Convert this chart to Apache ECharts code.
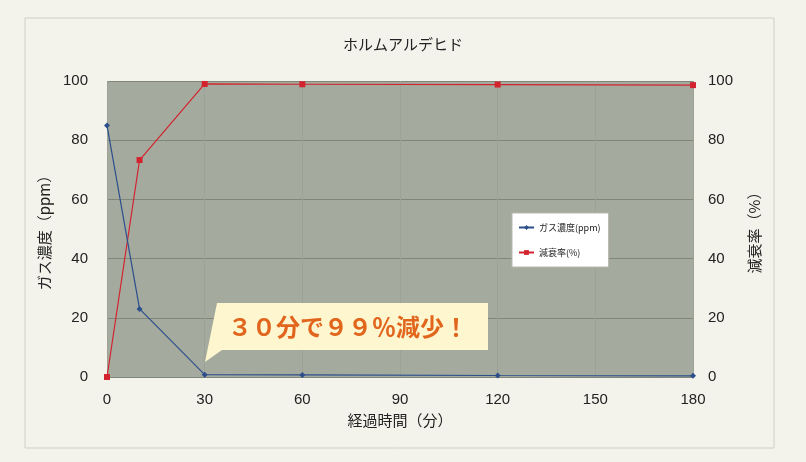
<!DOCTYPE html>
<html><head><meta charset="utf-8">
<script src="https://cdn.jsdelivr.net/npm/echarts@6/dist/echarts.min.js"></script>
<style>html,body{margin:0;padding:0;background:#f3f2eb;}#c{width:806px;height:462px;}</style>
</head><body><div id="c"></div>
<script>
const title = 'ホルムアルデヒド';
const xTimes = [0, 10, 30, 60, 120, 180];
const gasPpm = [85, 23, 0.8, 0.7, 0.5, 0.4];
const decayPct = [0, 73.3, 99.0, 98.9, 98.8, 98.6];
const gasSeries = 'ガス濃度(ppm)';
const decaySeries = '減衰率(%)';
const gasAxisName = 'ガス濃度（ppm）';
const decayAxisName = '減衰率（%）';
const xName = '経過時間（分）';
const calloutText = '３０分で９９％減少！';

const chart = echarts.init(document.getElementById('c'));
const font = '"Noto Sans CJK JP", "Noto Sans", sans-serif';
const numFont = '"Liberation Sans", Arial, sans-serif';
chart.setOption({
  backgroundColor: '#f3f2eb',
  textStyle: {fontFamily: font},
  title: {text: title, left: 'center', top: 32, textStyle: {fontSize: 15, fontWeight: 'normal', color: '#222', fontFamily: font}},
  grid: {left: 107, right: 113, top: 81, bottom: 85, show: true, backgroundColor: '#a4aa9e', borderWidth: 0},
  legend: {
    orient: 'vertical', left: 512, top: 213,
    backgroundColor: '#ffffff', borderColor: '#b8b8b0', borderWidth: 1,
    padding: [10, 8, 10, 6], itemGap: 16, itemWidth: 15, itemHeight: 6,
    textStyle: {fontSize: 9, color: '#222'},
    data: [gasSeries, decaySeries]
  },
  xAxis: {
    type: 'value', min: 0, max: 180, interval: 30,
    name: xName, nameLocation: 'middle', nameGap: 36,
    nameTextStyle: {fontSize: 15, color: '#222'},
    axisLine: {show: false}, axisTick: {show: false},
    axisLabel: {fontSize: 15, color: '#222', margin: 15, fontFamily: numFont},
    splitLine: {show: true, lineStyle: {color: '#9ca295', width: 1}}
  },
  yAxis: [
    {type: 'value', min: 0, max: 100, interval: 20,
     name: gasAxisName, nameLocation: 'middle', nameGap: 54, nameRotate: 90,
     nameTextStyle: {fontSize: 15, color: '#222'},
     axisLine: {show: false}, axisTick: {show: false},
     axisLabel: {fontSize: 15, color: '#222', margin: 19, fontFamily: numFont},
     splitLine: {show: true, lineStyle: {color: '#808779', width: 1}}},
    {type: 'value', min: 0, max: 100, interval: 20, position: 'right',
     name: decayAxisName, nameLocation: 'middle', nameGap: 54, nameRotate: 90,
     nameTextStyle: {fontSize: 15, color: '#222'},
     axisLine: {show: false}, axisTick: {show: false},
     axisLabel: {fontSize: 15, color: '#222', margin: 15, fontFamily: numFont},
     splitLine: {show: false}}
  ],
  series: [
    {name: gasSeries, type: 'line', yAxisIndex: 0,
     data: xTimes.map((x, i) => [x, gasPpm[i]]),
     symbol: 'diamond', symbolSize: 6, showAllSymbol: true,
     lineStyle: {color: '#2c4f8c', width: 1.2}, itemStyle: {color: '#2c4f8c'}, z: 3},
    {name: decaySeries, type: 'line', yAxisIndex: 1,
     data: xTimes.map((x, i) => [x, decayPct[i]]),
     symbol: 'rect', symbolSize: 6, showAllSymbol: true,
     lineStyle: {color: '#d3232e', width: 1.2}, itemStyle: {color: '#d3232e'}, z: 2}
  ],
  graphic: [
    {type: 'rect', shape: {x: 25, y: 18, width: 749, height: 430}, style: {fill: 'none', stroke: '#cfcfc7', lineWidth: 1}, silent: true, z: -1},
    {type: 'polygon', shape: {points: [[217, 303], [488, 303], [488, 350], [222, 350], [205, 362]]},
     style: {fill: '#fdf6cf', stroke: 'none'}, z: 10},
    {type: 'text', x: 348, y: 327, z: 11,
     style: {text: calloutText, fill: '#e1651c', font: 'bold 24px ' + font, align: 'center', verticalAlign: 'middle'}}
  ]
});
</script></body></html>
